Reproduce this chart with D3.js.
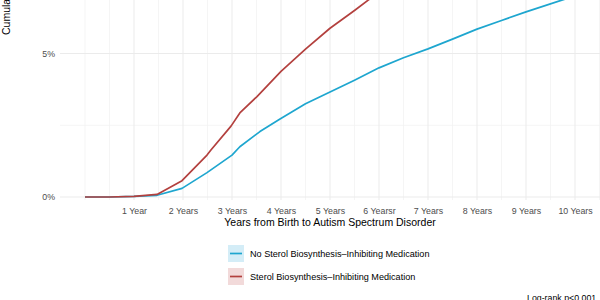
<!DOCTYPE html>
<html>
<head>
<meta charset="utf-8">
<script src="https://cdn.jsdelivr.net/npm/d3@7"></script>
<style>
  body { margin: 0; background: #fff; }
  text { font-family: "Liberation Sans", Arial, sans-serif; }
</style>
</head>
<body>
<svg id="chart" width="600" height="300"></svg>
<script>
// cumulative incidence (%)
const noSterolYears = [0, 0.5, 1.0, 1.47, 1.98, 2.49, 3.0, 3.16, 3.57, 3.98, 4.5, 5.0, 5.5, 6.0, 6.5, 7.0, 7.5, 8.0, 8.5, 9.0, 9.73, 10.4];
const noSterolPct   = [0, 0, 0.02, 0.06, 0.30, 0.85, 1.46, 1.75, 2.28, 2.72, 3.25, 3.66, 4.07, 4.5, 4.85, 5.16, 5.5, 5.85, 6.15, 6.45, 6.86, 7.2];

const sterolYears = [0, 0.5, 1.0, 1.47, 1.98, 2.49, 2.57, 2.98, 3.16, 3.51, 4.0, 4.5, 5.0, 5.5, 5.78, 6.1];
const sterolPct   = [0, 0, 0.02, 0.09, 0.57, 1.46, 1.64, 2.47, 2.93, 3.5, 4.38, 5.15, 5.88, 6.5, 6.86, 7.25];

const xBreaks = [1, 2, 3, 4, 5, 6, 7, 8, 9, 10];
const xLabels = ['1 Year', '2 Years', '3 Years', '4 Years', '5 Years', '6 Yearsr', '7 Years', '8 Years', '9 Years', '10 Years'];
const xMinor = [0, 0.5, 1.5, 2.5, 3.5, 4.5, 5.5, 6.5, 7.5, 8.5, 9.5, 10.5];
const yBreaks = [0, 5, 10];
const yMinor = [2.5, 7.5];

const seriesNames = ['No Sterol Biosynthesis\u2013Inhibiting Medication', 'Sterol Biosynthesis\u2013Inhibiting Medication'];
const lineColors = ['#1ea6cf', '#b3403e'];
const keyFills = ['#d4edf7', '#f2dada'];

const svg = d3.select('#chart');

const panel = {left: 60, right: 600, top: 0, bottom: 200};

const xScale = d3.scaleLinear().domain([0, 10]).range([85, 575]);
const yScale = d3.scaleLinear().domain([0, 5]).range([197, 53.5]);

const grid = svg.append('g');

// minor grid
grid.selectAll('.vminor').data(xMinor).enter().append('line')
    .attr('x1', d => xScale(d)).attr('x2', d => xScale(d))
    .attr('y1', panel.top).attr('y2', panel.bottom)
    .attr('stroke', '#f2f2f2').attr('stroke-width', 0.8);
grid.selectAll('.hminor').data(yMinor).enter().append('line')
    .attr('x1', panel.left).attr('x2', panel.right)
    .attr('y1', d => yScale(d)).attr('y2', d => yScale(d))
    .attr('stroke', '#f2f2f2').attr('stroke-width', 0.8);

// major grid
grid.selectAll('.vmajor').data(xBreaks).enter().append('line')
    .attr('x1', d => xScale(d)).attr('x2', d => xScale(d))
    .attr('y1', panel.top).attr('y2', panel.bottom)
    .attr('stroke', '#ebebeb').attr('stroke-width', 1);
grid.selectAll('.hmajor').data(yBreaks).enter().append('line')
    .attr('x1', panel.left).attr('x2', panel.right)
    .attr('y1', d => yScale(d)).attr('y2', d => yScale(d))
    .attr('stroke', '#ebebeb').attr('stroke-width', 1);

// axes (labels only, like theme_minimal)
const xAxis = d3.axisBottom(xScale)
    .tickValues(xBreaks)
    .tickFormat((d, i) => xLabels[i])
    .tickSize(0).tickPadding(8);
svg.append('g')
    .attr('transform', `translate(0,${panel.bottom})`)
    .call(xAxis)
    .call(g => g.select('.domain').remove())
    .selectAll('text')
    .attr('fill', '#4d4d4d')
    .style('font-size', '8.8px');

const yAxis = d3.axisLeft(yScale)
    .tickValues([0, 5])
    .tickFormat(d => d + '%')
    .tickSize(0).tickPadding(5);
svg.append('g')
    .attr('transform', `translate(${panel.left},0)`)
    .call(yAxis)
    .call(g => g.select('.domain').remove())
    .selectAll('text')
    .attr('fill', '#4d4d4d')
    .style('font-size', '8.8px');

// curves
const line = d3.line()
    .x(d => xScale(d[0]))
    .y(d => yScale(d[1]));

const curves = [
    d3.zip(noSterolYears, noSterolPct),
    d3.zip(sterolYears, sterolPct)
];

svg.selectAll('.curve').data(curves).enter().append('path')
    .attr('class', 'curve')
    .attr('d', d => line(d))
    .attr('fill', 'none')
    .attr('stroke', (d, i) => lineColors[i])
    .attr('stroke-width', 1.7)
    .attr('stroke-linejoin', 'round');

// axis titles
svg.append('text')
    .attr('x', 330).attr('y', 226)
    .attr('text-anchor', 'middle')
    .style('font-size', '10.5px')
    .attr('fill', '#000')
    .text('Years from Birth to Autism Spectrum Disorder');

svg.append('text')
    .attr('transform', 'translate(9.5,35) rotate(-90)')
    .attr('text-anchor', 'start')
    .style('font-size', '10.5px')
    .attr('fill', '#000')
    .text('Cumulative Incidence');

// legend
const legend = svg.append('g').attr('transform', 'translate(228,245)');
const item = legend.selectAll('.item').data(seriesNames).enter().append('g')
    .attr('transform', (d, i) => `translate(0,${i * 23})`);
item.append('rect')
    .attr('width', 16).attr('height', 17)
    .attr('fill', (d, i) => keyFills[i]);
item.append('line')
    .attr('x1', 2).attr('x2', 14)
    .attr('y1', 8.5).attr('y2', 8.5)
    .attr('stroke', (d, i) => lineColors[i])
    .attr('stroke-width', 1.7);
item.append('text')
    .attr('x', 22).attr('y', 8.5)
    .attr('dy', '0.35em')
    .style('font-size', '9.1px')
    .attr('fill', '#000')
    .text(d => d);

svg.append('text')
    .attr('x', 527).attr('y', 301)
    .style('font-size', '8.8px')
    .attr('fill', '#000')
    .text('Log-rank p<0.001');
</script>
</body>
</html>
